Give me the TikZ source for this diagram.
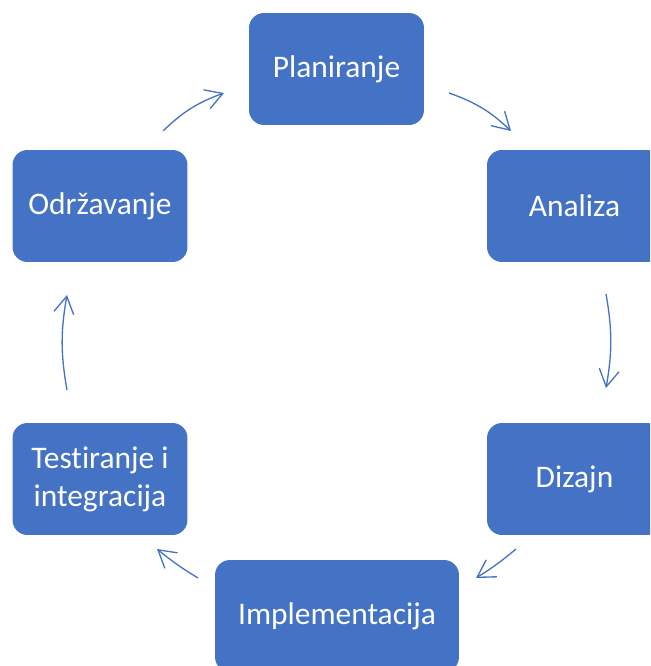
\documentclass[tikz,border=0pt]{standalone}
\usepackage{fontspec}
\setmainfont{Carlito}[Ligatures=NoCommon]
\usetikzlibrary{arrows.meta}
\definecolor{boxblue}{HTML}{4472C4}

\begin{document}
\begin{tikzpicture}[x=0.02cm,y=0.02cm,
    phase/.style={fill=boxblue, rounded corners=0.3cm, text=white, minimum width=3.5cm,
        minimum height=2.24cm, inner sep=0pt, align=center, font=\fontsize{17.9}{21.6}\selectfont},
    flow/.style={draw=boxblue, line width=0.75pt, -{Straight Barb[length=0.34cm,width=0.4cm]}}]
    \useasboundingbox (0,0) rectangle (650,666);
    \clip (0,0) rectangle (650,666);
    \node[phase] (plan) at (336.5,597) {Planiranje};
    \node[phase] (anal) at (574.5,460) {Analiza};
    \node[phase] (diz) at (574.5,187) {Dizajn};
    \node[phase, minimum width=4.88cm] (impl) at (337,50) {Implementacija};
    \node[phase] (test) at (100,187) {Testiranje i\\integracija};
    \node[phase] (odr) at (100,460) {Održavanje};
    \coordinate (a1s) at (163,535); \coordinate (a1e) at (224,573);
    \coordinate (a2s) at (449,573); \coordinate (a2e) at (511,535);
    \coordinate (a3s) at (606,372); \coordinate (a3e) at (606,278);
    \coordinate (a4s) at (516,117); \coordinate (a4e) at (476,88);
    \coordinate (a5s) at (198,88);  \coordinate (a5e) at (157,117);
    \coordinate (a6s) at (67,276);  \coordinate (a6e) at (67,371);
    \draw[flow] (a1s) to[bend left=12] (a1e);
    \draw[flow] (a2s) to[bend left=12] (a2e);
    \draw[flow] (a3s) to[bend left=10] (a3e);
    \draw[flow] (a4s) to[bend left=4] (a4e);
    \draw[flow] (a5s) to[bend left=4] (a5e);
    \draw[flow] (a6s) to[bend left=10] (a6e);
\end{tikzpicture}
\end{document}
